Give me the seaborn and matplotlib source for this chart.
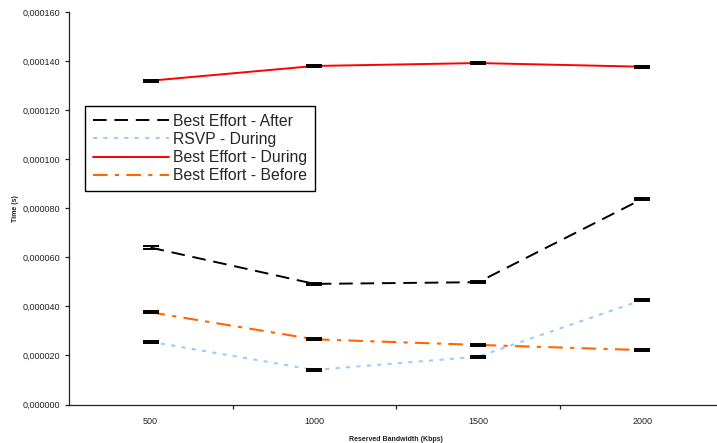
import matplotlib
matplotlib.use("Agg")
import matplotlib.pyplot as plt
from matplotlib.ticker import FuncFormatter, FixedLocator
import numpy as np
import pandas as pd
import seaborn as sns

# Reserved bandwidth categories (Kbps)
bandwidth = ["500", "1000", "1500", "2000"]

# Mean transfer time (s) per scenario
be_after = [0.0000640, 0.0000492, 0.0000499, 0.0000838]
rsvp_during = [0.0000256, 0.0000141, 0.0000195, 0.0000426]
be_during = [0.0001321, 0.0001381, 0.0001393, 0.0001378]
be_before = [0.0000376, 0.0000266, 0.0000243, 0.0000222]

# Error (half-width) per point
be_after_err = [0.0000007, 0.0000004, 0.0000004, 0.0000004]
rsvp_during_err = [0.0000004, 0.0000004, 0.0000004, 0.0000004]
be_during_err = [0.0000004, 0.0000004, 0.0000004, 0.0000004]
be_before_err = [0.0000004, 0.0000004, 0.0000004, 0.0000004]

series_names = ["Best Effort - After", "RSVP - During",
                "Best Effort - During", "Best Effort - Before"]
series_vals = [be_after, rsvp_during, be_during, be_before]
series_errs = [be_after_err, rsvp_during_err, be_during_err, be_before_err]

styles = {
    "Best Effort - After": dict(color="#000000", lw=1.4, dashes=(7, 4)),
    "RSVP - During": dict(color="#99CCFF", lw=1.5, dashes=(2, 3)),
    "Best Effort - During": dict(color="#FF0000", lw=1.4, dashes=None),
    "Best Effort - Before": dict(color="#FF6600", lw=1.5, dashes=(7, 3.5, 2, 3.5)),
}

rows = []
for name, vals, errs in zip(series_names, series_vals, series_errs):
    for i, (bw, v, e) in enumerate(zip(bandwidth, vals, errs)):
        rows.append(dict(series=name, pos=i, bandwidth=bw, time=v, err=e))
df = pd.DataFrame(rows)

sns.set_theme(style="white")
plt.rcParams["font.family"] = ["Liberation Sans", "DejaVu Sans"]

fig = plt.figure(figsize=(7.17, 4.43), dpi=100)
W, H = 717, 443
x0, x1, y0, y1 = 68.7, 724.0, 12.3, 404.5
ax = fig.add_axes([x0 / W, (H - y1) / H, (x1 - x0) / W, (y1 - y0) / H])

handles = []
for name in series_names:
    st = styles[name]
    sub = df[df["series"] == name]
    sns.lineplot(data=sub, x="pos", y="time", ax=ax, color=st["color"],
                 linewidth=st["lw"], legend=False, errorbar=None,
                 estimator=None, sort=False)
    line = ax.lines[-1]
    if st["dashes"] is not None:
        line.set_dashes(st["dashes"])
    line.set_label(name)
    handles.append(line)

# Error bars with black caps at each point
for name in series_names:
    sub = df[df["series"] == name]
    ax.errorbar(sub["pos"], sub["time"], yerr=sub["err"], fmt="none",
                ecolor="black", elinewidth=1.0, capsize=6, capthick=1.4,
                zorder=5)

ax.set_xlim(-0.5, len(bandwidth) - 0.5)
ax.set_ylim(0, 0.00016)
ax.set_yticks(np.arange(0, 0.000161, 0.00002))
ax.yaxis.set_major_formatter(FuncFormatter(lambda v, p: f"{v:.6f}".replace(".", ",")))

# Category boundaries carry the tick marks, labels sit at category centres
ax.xaxis.set_major_locator(FixedLocator([0.5, 1.5, 2.5]))
ax.set_xticklabels([])
ax.xaxis.set_minor_locator(FixedLocator(range(len(bandwidth))))
ax.set_xticklabels(bandwidth, minor=True)
ax.tick_params(axis="x", which="major", direction="out", length=3, width=0.9,
               color="#222222", bottom=True)
ax.tick_params(axis="x", which="minor", length=0, pad=9, labelsize=6.5,
               labelcolor="#222222", bottom=True)
ax.tick_params(axis="y", direction="out", length=3, width=0.9, color="#222222",
               labelsize=6.5, labelcolor="#222222", left=True, pad=3)

for side in ["top", "right"]:
    ax.spines[side].set_visible(False)
for side in ["left", "bottom"]:
    ax.spines[side].set_color("#222222")
    ax.spines[side].set_linewidth(0.9)

ax.set_xlabel("Reserved Bandwidth (Kbps)", fontsize=5, fontweight="bold",
              labelpad=7, color="#222222")
ax.set_ylabel("Time (s)", fontsize=5, fontweight="bold", labelpad=3,
              color="#222222")

leg = ax.legend(handles=handles, loc="upper left",
                bbox_to_anchor=((85 - x0) / (x1 - x0), (y1 - 106) / (y1 - y0)),
                borderaxespad=0, fontsize=11.3, frameon=True, fancybox=False,
                handlelength=4.85, handletextpad=0.25, labelspacing=0.2,
                borderpad=0.5)
leg.get_frame().set_edgecolor("black")
leg.get_frame().set_linewidth(1.0)
leg.get_frame().set_facecolor("white")
leg.get_frame().set_alpha(1)

fig.savefig("out.png", dpi=100)
